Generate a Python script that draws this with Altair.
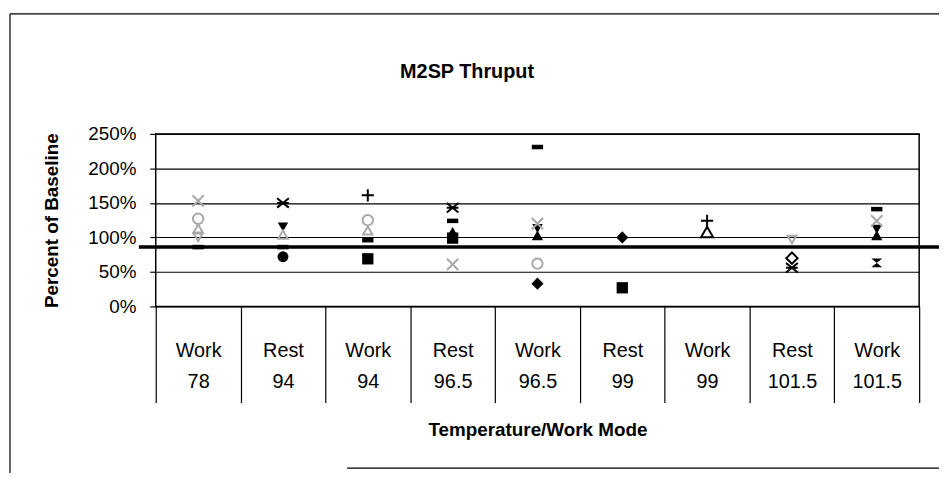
import altair as alt
import pandas as pd

# ---- data ----
categories = ["Work|78", "Rest|94", "Work|94", "Rest|96.5", "Work|96.5",
              "Rest|99", "Work|99", "Rest|101.5", "Work|101.5"]
y_ticks = [0, 0.5, 1.0, 1.5, 2.0, 2.5]
reference_level = 0.86  # thick horizontal reference line
chart_title = "M2SP Thruput"

# percent of baseline per series, one entry per category (None = no marker)
s_dash       = [86, 86, 96, 124, 231, None, None, None, 141]
s_asterisk   = [None, 150, None, 143, None, None, None, 56, None]
s_plus       = [None, None, 161, None, None, None, 124, None, None]
s_x_gray     = [153, None, None, 61, 120, None, None, None, 124]
s_circle_gr  = [127, None, 125, None, 62, None, None, None, None]
s_tri_gray   = [113, 104, 110, None, None, None, None, None, None]
s_trid_gray  = [100, None, None, None, None, None, None, 97, None]
s_tri_black  = [None, None, None, 108, 103, None, None, None, 103]
s_square     = [None, None, 69, 99, None, 27, None, None, None]
s_diamond    = [None, None, None, None, 33, 100, None, None, None]
s_circle_bk  = [None, 72, None, None, None, None, None, None, None]
s_trid_black = [None, 115, None, None, 113, None, None, None, 112]
s_tri_open   = [None, None, None, None, None, None, 108, None, None]
s_dia_open   = [None, None, None, None, None, None, None, 70, None]
s_hourglass  = [None, None, None, None, None, None, None, None, 63]

series_values = {
    "dash": s_dash, "asterisk": s_asterisk, "plus": s_plus, "x_gray": s_x_gray,
    "circle_gray": s_circle_gr, "tri_gray": s_tri_gray, "trid_gray": s_trid_gray,
    "tri_black": s_tri_black, "square": s_square, "diamond": s_diamond,
    "circle_black": s_circle_bk, "trid_black": s_trid_black, "tri_open": s_tri_open,
    "dia_open": s_dia_open, "hourglass": s_hourglass,
}

# ---- marker styles (shape, colour, filled, size) ----
BLACK = "#000000"
GRAY = "#a9a9a9"
marker_style = {
    "dash": ("M-1,-0.4H1V0.4H-1Z", BLACK, True, 130),
    "asterisk": ("M-1,-0.8L1,0.8M-1,0.8L1,-0.8M-1,0H1", BLACK, False, 140),
    "plus": ("M-1,0H1M0,-1V1", BLACK, False, 150),
    "x_gray": ("M-1,-1L1,1M-1,1L1,-1", GRAY, False, 130),
    "circle_gray": ("circle", GRAY, False, 110),
    "tri_gray": ("triangle-up", GRAY, False, 90),
    "trid_gray": ("triangle-down", GRAY, False, 80),
    "tri_black": ("triangle-up", BLACK, True, 130),
    "square": ("square", BLACK, True, 130),
    "diamond": ("diamond", BLACK, True, 150),
    "circle_black": ("circle", BLACK, True, 120),
    "trid_black": ("triangle-down", BLACK, True, 110),
    "tri_open": ("triangle-up", BLACK, False, 150),
    "dia_open": ("diamond", BLACK, False, 130),
    "hourglass": ("M-1,-0.8H1L-1,0.8H1Z", BLACK, True, 120),
}

rows = []
for name, vals in series_values.items():
    shp, col, filled, size = marker_style[name]
    for cat, v in zip(categories, vals):
        if v is not None:
            rows.append({"cat": cat, "value": v / 100.0, "series": name,
                         "shp": shp, "col": col, "filled": filled, "size": size})
df = pd.DataFrame(rows)

FONT = "Liberation Sans"
W, H = 770, 174

x_enc = alt.X("cat:N", sort=categories, scale=alt.Scale(domain=categories, paddingInner=0, paddingOuter=0),
              axis=alt.Axis(title="Temperature/Work Mode", labelExpr="split(datum.label, '|')",
                            labelAngle=0, labelFontSize=20, labelLineHeight=32, labelColor=BLACK,
                            labelFont=FONT, tickBand="extent", tickSize=97, tickColor=BLACK,
                            tickWidth=1.2, labelPadding=-63, domain=False,
                            titleFont=FONT, titleFontSize=19, titleFontWeight="bold",
                            titlePadding=18, titleColor=BLACK))
y_axis = alt.Axis(title="Percent of Baseline", format=".0%", values=y_ticks,
                  grid=True, gridColor=BLACK, gridWidth=1.2, gridOpacity=1,
                  tickSize=6, tickColor=BLACK, tickWidth=1.2, labelPadding=14,
                  labelFontSize=19, labelFont=FONT, labelColor=BLACK, domain=False,
                  labelOverlap=False,
                  titleFont=FONT, titleFontSize=19, titleFontWeight="bold",
                  titlePadding=26, titleColor=BLACK)
y_scale = alt.Scale(domain=[0, 2.5], nice=False, zero=True)
y_enc = alt.Y("value:Q", scale=y_scale, axis=y_axis)

base = alt.Chart(df)
filled_pts = base.transform_filter("datum.filled").mark_point(filled=True, opacity=1).encode(
    x=x_enc, y=y_enc,
    shape=alt.Shape("shp:N", scale=None),
    color=alt.Color("col:N", scale=None),
    size=alt.Size("size:Q", scale=None),
)
stroked_pts = base.transform_filter("!datum.filled").mark_point(filled=False, opacity=1, strokeWidth=2).encode(
    x=x_enc, y=y_enc,
    shape=alt.Shape("shp:N", scale=None),
    color=alt.Color("col:N", scale=None),
    size=alt.Size("size:Q", scale=None),
)

ref_df = pd.DataFrame({"value": [reference_level]})
ref_line = alt.Chart(ref_df).mark_rule(color=BLACK, strokeWidth=3.5).encode(
    y=y_enc, x=alt.value(-17), x2=alt.value(W + 25))

# chart title as a text mark above the plot
title_df = pd.DataFrame({"t": [chart_title]})
title_mark = alt.Chart(title_df).mark_text(
    font=FONT, fontSize=20, fontWeight="bold", color=BLACK, align="center", baseline="middle"
).encode(text="t:N", x=alt.value(314), y=alt.value(-62))

# outer chart frame
frame_top = alt.Chart(ref_df).mark_rule(color=BLACK, strokeWidth=1.2).encode(
    x=alt.value(-147), x2=alt.value(W + 25), y=alt.value(-121))
frame_left = alt.Chart(ref_df).mark_rule(color=BLACK, strokeWidth=1.2).encode(
    x=alt.value(-147), y=alt.value(-121), y2=alt.value(H + 200))
frame_bottom = alt.Chart(ref_df).mark_rule(color=BLACK, strokeWidth=1.2).encode(
    x=alt.value(193), x2=alt.value(W + 25), y=alt.value(337))

chart = alt.layer(filled_pts, stroked_pts, ref_line, title_mark,
                  frame_top, frame_left, frame_bottom).properties(
    width=W, height=H,
    autosize=alt.AutoSizeParams(type="none"),
    padding={"left": 149, "top": 125, "right": 20, "bottom": 166},
    background="white",
).configure_view(stroke=BLACK, strokeWidth=1.5)

chart.save("out.html", embed_options={"renderer": "svg", "actions": False})
